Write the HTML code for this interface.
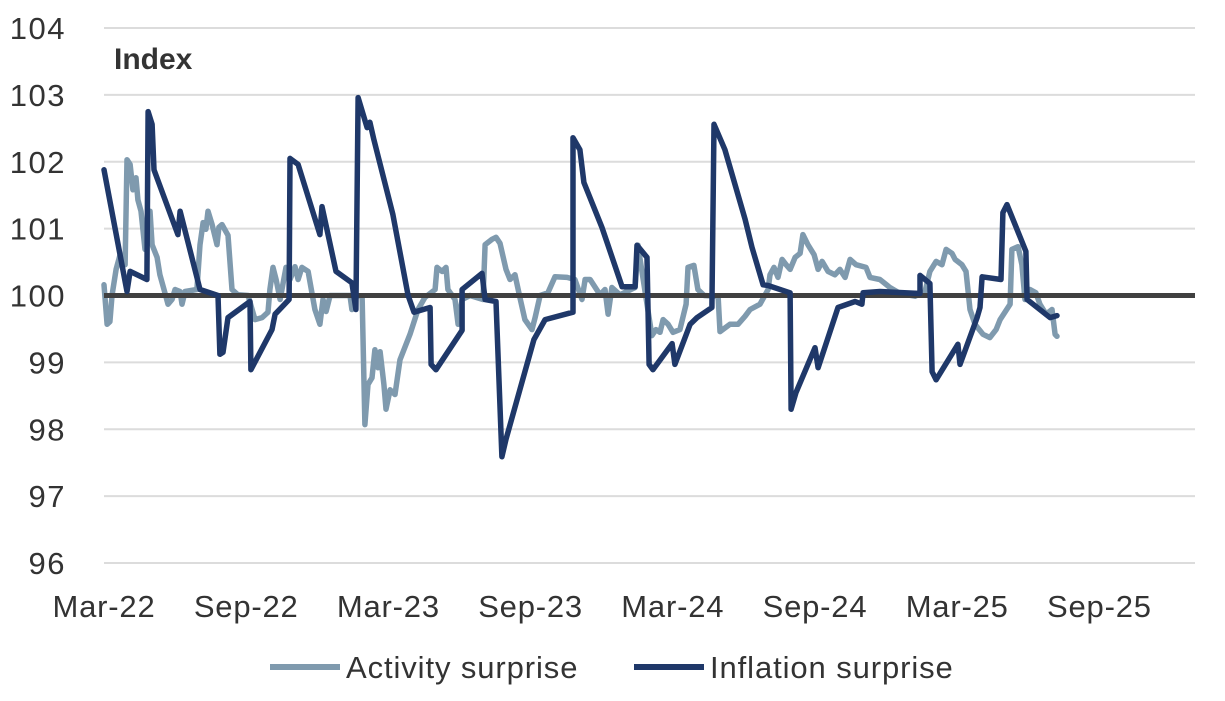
<!DOCTYPE html>
<html><head><meta charset="utf-8"><style>
body{margin:0;background:#fff;}
svg text{font-family:"Liberation Sans",sans-serif;}
</style></head><body>
<svg id="chart" width="1225" height="696" viewBox="0 0 1225 696" xmlns="http://www.w3.org/2000/svg">
<g id="grid"></g>
<g id="yticks"></g>
<g id="xticks"></g>
<text x="114" y="69" font-size="30" font-weight="bold" fill="#333">Index</text>
<g id="series"></g>
<g>
<g>
<line x1="270" y1="667" x2="340" y2="667" stroke="#7f9aae" stroke-width="6"/>
<text x="346" y="678" font-size="31" letter-spacing="0.9" fill="#333">Activity surprise</text></g>
<g>
<line x1="634" y1="667" x2="704" y2="667" stroke="#1f3869" stroke-width="6"/>
<text x="710" y="678" font-size="31" letter-spacing="0.9" fill="#333">Inflation surprise</text></g>
</g>
</svg>
<script>
const yTicks=[96,97,98,99,100,101,102,103,104];
const xTickLabels=["Mar-22","Sep-22","Mar-23","Sep-23","Mar-24","Sep-24","Mar-25","Sep-25"];
const xTickMonths=[0,6,12,18,24,30,36,42];
// months since Mar-22
const actMonths=[0,0.13,0.25,0.34,0.51,0.68,0.89,0.97,1.10,1.22,1.35,1.43,1.56,1.73,1.86,1.94,2.03,2.24,2.36,2.53,2.70,2.87,3.00,3.21,3.29,3.42,3.92,4.05,4.18,4.30,4.39,4.56,4.77,4.85,4.98,5.23,5.40,5.65,6.08,6.37,6.67,6.92,7.00,7.13,7.26,7.43,7.68,7.85,8.06,8.19,8.35,8.61,8.90,9.11,9.24,9.37,9.54,10.38,10.46,10.59,10.89,11.01,11.14,11.31,11.43,11.56,11.65,11.81,11.90,12.07,12.28,12.49,12.91,13.25,13.54,13.97,14.05,14.26,14.43,14.51,14.81,14.94,15.11,15.44,15.99,16.08,16.37,16.54,16.71,16.96,17.13,17.34,17.55,17.76,18.06,18.19,18.40,18.73,19.03,19.54,19.87,20.17,20.30,20.51,20.93,21.14,21.27,21.43,21.77,22.41,22.53,22.62,22.91,23.12,23.29,23.46,23.59,23.80,24.01,24.30,24.56,24.64,24.89,25.06,25.32,25.91,25.99,26.41,26.75,27.05,27.26,27.68,28.02,28.10,28.27,28.44,28.61,28.78,28.95,29.16,29.37,29.49,29.70,29.96,30.13,30.30,30.55,30.84,31.05,31.27,31.48,31.73,32.15,32.32,32.74,33.16,33.59,34.22,34.64,34.85,35.11,35.36,35.53,35.78,35.91,36.20,36.37,36.54,36.75,37.09,37.38,37.64,37.81,38.23,38.31,38.57,38.73,38.86,39.07,39.32,39.49,39.75,40.00,40.13,40.21];
const actValues=[100.16,99.57,99.61,100.01,100.39,100.61,100.46,102.03,101.96,101.58,101.76,101.43,101.26,100.69,100.91,101.26,100.76,100.57,100.31,100.09,99.87,99.94,100.09,100.06,99.87,100.06,100.09,100.76,101.09,100.99,101.26,101.06,100.76,101.02,101.06,100.90,100.09,100.01,100.0,99.64,99.67,99.75,100.09,100.42,100.24,99.94,100.42,100.24,100.43,100.24,100.42,100.36,99.79,99.57,99.94,99.76,100.0,100.0,99.79,100.0,99.99,98.07,98.67,98.77,99.19,98.92,99.16,98.67,98.30,98.59,98.52,99.04,99.42,99.79,99.97,100.09,100.42,100.36,100.42,100.09,99.94,99.57,99.94,100.0,99.94,100.76,100.84,100.87,100.78,100.39,100.24,100.31,99.97,99.64,99.49,99.67,100.0,100.04,100.28,100.27,100.24,99.94,100.24,100.24,100.01,100.09,99.72,100.12,100.01,100.12,100.75,100.54,99.87,99.40,99.49,99.45,99.64,99.57,99.45,99.49,99.87,100.42,100.45,100.09,100.0,99.99,99.46,99.57,99.57,99.69,99.79,99.87,100.09,100.31,100.42,100.27,100.54,100.46,100.39,100.57,100.63,100.91,100.76,100.61,100.39,100.51,100.36,100.31,100.39,100.27,100.54,100.46,100.42,100.27,100.24,100.12,100.03,99.99,100.06,100.36,100.51,100.46,100.69,100.63,100.54,100.46,100.36,99.79,99.57,99.42,99.37,99.49,99.64,99.87,100.69,100.73,100.46,99.94,100.09,100.04,99.87,99.72,99.79,99.42,99.39];
const infMonths=[0,0.97,1.10,1.81,1.86,2.03,2.11,3.12,3.21,4.05,4.81,4.89,5.02,5.23,6.16,6.20,7.09,7.22,7.81,7.85,8.19,9.11,9.20,9.79,10.46,10.63,10.72,11.10,11.22,11.39,12.19,12.83,13.08,13.76,13.80,14.01,15.11,15.11,15.95,16.08,16.54,16.79,16.96,17.76,18.14,18.61,19.79,19.79,20.08,20.25,21.01,21.18,21.86,22.41,22.49,22.91,23.00,23.16,23.97,24.09,24.73,25.02,25.65,25.74,26.20,27.05,27.34,27.81,28.02,28.95,28.99,29.20,30.00,30.13,30.97,31.69,31.98,32.03,32.74,34.43,34.43,34.85,34.94,35.11,36.03,36.12,36.84,36.96,37.05,37.85,37.93,38.10,38.90,38.95,39.92,40.21];
const infValues=[101.88,100.06,100.36,100.24,102.75,102.56,101.88,100.91,101.26,100.09,100.0,99.12,99.15,99.67,99.91,98.89,99.49,99.72,99.94,102.05,101.96,100.91,101.33,100.36,100.19,99.79,102.96,102.51,102.59,102.33,101.21,100.0,99.75,99.82,98.97,98.89,99.48,100.09,100.33,99.94,99.91,97.59,97.85,98.86,99.34,99.64,99.75,102.36,102.18,101.69,101.02,100.84,100.13,100.13,100.75,100.57,98.97,98.89,99.28,98.97,99.57,99.67,99.82,102.56,102.18,101.14,100.72,100.16,100.15,100.04,98.30,98.55,99.22,98.92,99.82,99.91,99.87,100.04,100.06,100.03,100.30,100.18,98.86,98.74,99.27,98.97,99.67,99.82,100.28,100.24,101.24,101.36,100.66,99.94,99.67,99.70];

const X0=104,X1=1195,PXM=23.7,YTOP=28,YBOT=563,VMIN=96,VMAX=104;
const xs=m=>X0+m*PXM;
const ys=v=>YBOT-(v-VMIN)/(VMAX-VMIN)*(YBOT-YTOP);
const NS="http://www.w3.org/2000/svg";
function mk(tag,attrs,parent){const e=document.createElementNS(NS,tag);for(const k in attrs)e.setAttribute(k,attrs[k]);parent.appendChild(e);return e;}
const grid=document.getElementById('grid'),yt=document.getElementById('yticks'),xt=document.getElementById('xticks'),ser=document.getElementById('series');
yTicks.forEach(v=>{
  const l=mk('line',{x1:X0,x2:X1,y1:ys(v),y2:ys(v),stroke:'#dcdcdc','stroke-width':2},grid);
  
  
  const t=mk('text',{x:66,y:ys(v)+11,'text-anchor':'end','font-size':31,'letter-spacing':1.5,fill:'#333'},yt);
  t.textContent=v;
  
  
});
xTickLabels.forEach((lab,i)=>{
  const t=mk('text',{x:xs(xTickMonths[i]),y:617,'text-anchor':'middle','font-size':31,'letter-spacing':0.8,fill:'#333'},xt);
  t.textContent=lab;
  
  
});
function line(ms,vs,color,name){
  const d=ms.map((m,i)=>(i?'L':'M')+xs(m).toFixed(1)+','+ys(vs[i]).toFixed(1)).join('');
  const p=mk('path',{d:d,fill:'none',stroke:color,'stroke-width':5.5,'stroke-linejoin':'round','stroke-linecap':'round'},ser);
  
  
}
line(actMonths,actValues,'#7f9aae','activity-surprise-line');
const z=mk('line',{x1:X0,x2:X1,y1:ys(100),y2:ys(100),stroke:'#404040','stroke-width':5},ser);


line(infMonths,infValues,'#1f3869','inflation-surprise-line');
</script>
</body></html>
